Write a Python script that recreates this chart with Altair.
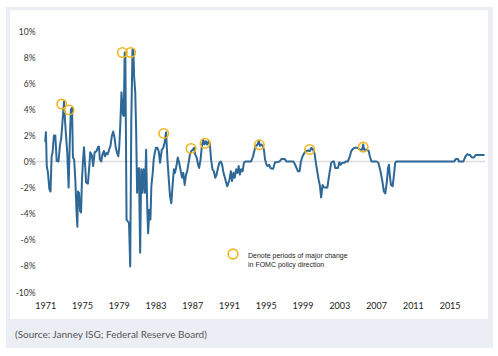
import altair as alt
import pandas as pd

# --- data (year, YoY change in %) ---
years = [
    1971.0, 1971.08, 1971.17, 1971.3, 1971.45, 1971.58, 1971.7, 1971.8, 1971.95, 1972.1,
    1972.25, 1972.45, 1972.6, 1972.75, 1972.9, 1973.05, 1973.15, 1973.28, 1973.4, 1973.55,
    1973.68, 1973.8, 1973.92, 1974.02, 1974.15, 1974.28, 1974.4, 1974.5, 1974.57, 1974.68,
    1974.8, 1974.9, 1975.0, 1975.1, 1975.22, 1975.35, 1975.45, 1975.65, 1975.8, 1975.9,
    1976.07, 1976.22, 1976.38, 1976.58, 1976.75, 1976.85, 1976.95, 1977.1, 1977.22, 1977.38,
    1977.5, 1977.65, 1977.8, 1977.95, 1978.1, 1978.25, 1978.4, 1978.55, 1978.68, 1978.82,
    1978.95, 1979.05, 1979.15, 1979.3, 1979.45, 1979.55, 1979.65, 1979.72, 1979.85, 1980.0,
    1980.12, 1980.25, 1980.37, 1980.5, 1980.6, 1980.67, 1980.8, 1980.9, 1981.0, 1981.08,
    1981.2, 1981.33, 1981.45, 1981.58, 1981.7, 1981.85, 1981.98, 1982.1, 1982.2, 1982.33,
    1982.45, 1982.55, 1982.7, 1982.8, 1982.92, 1983.05, 1983.2, 1983.35, 1983.5, 1983.68,
    1983.85, 1984.0, 1984.15, 1984.3, 1984.45, 1984.58, 1984.72, 1984.88, 1985.0, 1985.12,
    1985.28, 1985.42, 1985.58, 1985.75, 1985.9, 1986.02, 1986.18, 1986.32, 1986.45, 1986.6,
    1986.75, 1986.9, 1987.05, 1987.2, 1987.32, 1987.48, 1987.62, 1987.75, 1987.9, 1988.05,
    1988.2, 1988.32, 1988.48, 1988.62, 1988.78, 1988.9, 1989.05, 1989.2, 1989.35, 1989.5,
    1989.65, 1989.8, 1989.95, 1990.1, 1990.25, 1990.4, 1990.55, 1990.8, 1991.05, 1991.2,
    1991.33, 1991.48, 1991.62, 1991.78, 1991.92, 1992.05, 1992.18, 1992.32, 1992.48, 1992.62,
    1992.78, 1993.4, 1993.62, 1993.78, 1993.92, 1994.1, 1994.25, 1994.35, 1994.5, 1994.65,
    1994.8, 1994.92, 1995.08, 1995.2, 1995.38, 1995.5, 1995.65, 1995.8, 1996.0, 1996.25,
    1996.5, 1996.72, 1997.05, 1997.25, 1998.0, 1998.2, 1998.35, 1998.5, 1998.68, 1998.82,
    1999.0, 1999.2, 1999.35, 1999.65, 1999.8, 1999.95, 2000.15, 2000.3, 2000.45, 2000.6,
    2000.75, 2000.9, 2001.02, 2001.18, 2001.35, 2001.7, 2001.85, 2002.0, 2002.12, 2002.28,
    2002.42, 2002.55, 2002.85, 2003.0, 2003.15, 2003.3, 2003.55, 2003.7, 2003.92, 2004.15,
    2004.3, 2004.45, 2004.65, 2005.0, 2005.25, 2005.48, 2005.6, 2005.7, 2006.0, 2006.2,
    2006.32, 2006.5, 2007.05, 2007.25, 2007.48, 2007.68, 2007.85, 2008.0, 2008.18, 2008.3,
    2008.4, 2008.5, 2008.62, 2008.8, 2008.95, 2009.08, 2009.2, 2015.5, 2015.68, 2015.9,
    2016.02, 2016.5, 2016.7, 2016.9, 2017.2, 2017.45, 2017.62, 2017.85, 2018.8,
]
values = [
    1.5, 2.25, -0.35, -0.85, -2.1, -2.3, 0.4, 0.65, 2.0, 2.0,
    0.05, 0.0, 1.2, 1.8, 3.2, 4.6, 3.2, 1.85, 0.7, -2.0,
    1.7, 4.0, 4.1, 0.3, 0.15, -1.4, -3.7, -5.0, -2.3, -2.4,
    -3.8, -3.9, -1.4, -0.1, 1.1, -0.35, -1.6, -1.7, -0.35, 0.7,
    0.5, -0.35, 0.7, 0.8, 1.1, 1.15, 0.15, 0.0, 0.5, 0.8,
    0.4, 0.65, 0.55, 0.9, 1.2, 1.95, 2.3, 1.8, 1.05, 0.65,
    0.4, 1.05, 2.45, 5.3, 3.6, 3.5, 8.35, 8.35, -4.45, -4.6,
    -4.7, -8.05, 3.2, 8.6, 8.5, 6.55, 5.3, 2.2, -2.4, -0.6,
    -0.5, -7.0, -0.6, -2.4, -0.6, -2.4, 0.9, -3.45, -5.5, -3.7,
    -4.45, -1.9, -0.87, 0.15, 0.65, 1.05, 1.05, 0.8, -0.1, 0.9,
    1.05, 1.45, 2.25, 0.15, -1.4, -2.65, -3.2, -1.65, -0.6, -0.87,
    -0.35, 0.3, -0.1, -0.75, -1.25, -0.87, -1.8, -1.0, -0.75, -0.1,
    0.55, 0.8, 0.9, 1.05, 0.55, 0.3, -0.2, -0.5, 0.15, 1.2,
    1.65, 1.3, 1.55, 1.3, 1.55, 1.45, 0.15, -0.6, -0.75, -1.25,
    -1.0, -0.5, -0.1, 0.0, -0.25, -0.87, -1.25, -1.9, -1.4, -0.75,
    -1.5, -0.87, -1.25, -0.6, -0.87, -0.35, -1.0, -0.6, -0.75, -0.1,
    0.0, 0.0, 0.4, 0.9, 1.2, 1.3, 1.6, 1.2, 1.3, 1.2,
    0.9, 0.15, -0.25, -0.35, -0.25, -0.5, -0.55, -0.55, -0.05, -0.05,
    0.0, 0.2, 0.2, 0.0, 0.0, -0.25, -0.5, -0.75, -0.75, 0.0,
    0.4, 0.65, 0.8, 0.85, 0.8, 1.05, 0.9, 0.65, -0.1, -0.75,
    -1.4, -1.9, -2.75, -1.8, -2.0, -2.0, -1.25, -0.6, -0.1, 0.0,
    0.0, -0.5, -0.5, -0.05, -0.25, -0.1, -0.1, 0.0, 0.0, 0.4,
    0.8, 0.95, 1.05, 1.05, 0.9, 0.9, 1.3, 0.9, 0.9, 0.8,
    0.4, 0.0, 0.0, -0.1, -0.75, -1.5, -2.3, -2.45, -1.5, -0.5,
    -0.25, -1.1, -1.8, -1.9, -1.0, -0.1, 0.0, 0.0, 0.2, 0.2,
    0.0, 0.0, 0.35, 0.55, 0.5, 0.3, 0.3, 0.5, 0.5,
]

# circled "major change" points
circle_years = [1972.8, 1973.6, 1979.4, 1980.3, 1983.9, 1986.87, 1988.4, 1994.3, 1999.77, 2005.6]
circle_values = [4.4, 3.95, 8.35, 8.35, 2.15, 1.0, 1.4, 1.28, 0.92, 1.1]

x_ticks = [1971, 1975, 1979, 1983, 1987, 1991, 1995, 1999, 2003, 2007, 2011, 2015]
y_ticks = [-10, -8, -6, -4, -2, 0, 2, 4, 6, 8, 10]

legend_lines = ["Denote periods of major change", "in FOMC policy direction"]
source_text = "(Source: Janney ISG; Federal Reserve Board)"

LINE = "#2D6896"
GOLD = "#F2B51C"
FRAME = "#EBEFF5"

df = pd.DataFrame({"year": years, "value": values})
circ = pd.DataFrame({"year": circle_years, "value": circle_values})
zero_df = pd.DataFrame({"value": [0]})
one = alt.Data(values=[{}])

x_scale = alt.Scale(domain=[1970, 2018.85], nice=False, zero=False)
y_scale = alt.Scale(domain=[-10, 10], nice=False)

y_axis = alt.Axis(values=y_ticks, labelExpr="datum.value + '%'", domain=False,
                  ticks=False, grid=False, labelFont="Lato", labelFontSize=8.5,
                  labelColor="#333333", labelPadding=1, labelOverlap=False,
                  labelBound=False, labelFlush=False, zindex=1)
x_axis = alt.Axis(values=x_ticks, format="d", domain=False, ticks=False, grid=False,
                  labelFont="Lato", labelFontSize=9, labelColor="#1A1A1A",
                  labelPadding=9, labelOverlap=False, labelBound=False,
                  labelFlush=False, zindex=1)

frame = alt.Chart(one).mark_rect(color=FRAME).encode(
    x=alt.value(-30), x2=alt.value(457), y=alt.value(-24), y2=alt.value(317)
)
panel = alt.Chart(one).mark_rect(color="white").encode(
    x=alt.value(-26), x2=alt.value(452), y=alt.value(-21), y2=alt.value(288)
)

zero = alt.Chart(zero_df).mark_rule(color="#DCDCDC", strokeWidth=1.5).encode(
    y=alt.Y("value:Q", scale=y_scale, axis=y_axis, title=None)
)

line = alt.Chart(df).mark_line(color=LINE, strokeWidth=2, strokeJoin="round").encode(
    x=alt.X("year:Q", scale=x_scale, title=None, axis=x_axis),
    y=alt.Y("value:Q", scale=y_scale, title=None, axis=y_axis),
)

circles = alt.Chart(circ).mark_point(
    shape="circle", filled=False, color=GOLD, size=90, strokeWidth=1.6, opacity=1
).encode(x=alt.X("year:Q", scale=x_scale, axis=x_axis, title=None),
         y=alt.Y("value:Q", scale=y_scale, axis=y_axis, title=None))

legend_mark = alt.Chart(one).mark_point(
    shape="circle", filled=False, color=GOLD, size=95, strokeWidth=1.6, opacity=1
).encode(x=alt.value(197), y=alt.value(223))

legend_text = alt.Chart(one).mark_text(
    text=legend_lines, align="left", baseline="middle", fontSize=7, lineHeight=9,
    font="Liberation Sans Narrow, Liberation Sans, Arial", color="#222222"
).encode(x=alt.value(212), y=alt.value(225))

source = alt.Chart(one).mark_text(
    text=source_text, align="left", baseline="middle", fontSize=10, font="Lato",
    color="#555555"
).encode(x=alt.value(-21), y=alt.value(304))

chart = alt.layer(
    frame, panel, zero, line, circles, legend_mark, legend_text, source
).properties(
    width=449, height=261,
    autosize=alt.AutoSizeParams(type="none"),
    padding={"left": 36, "top": 31, "right": 13, "bottom": 64},
    background="white",
).configure_view(stroke=None).configure_axis(labelOverlap=False)

chart.save("out.html", embed_options={"renderer": "svg", "actions": False})
